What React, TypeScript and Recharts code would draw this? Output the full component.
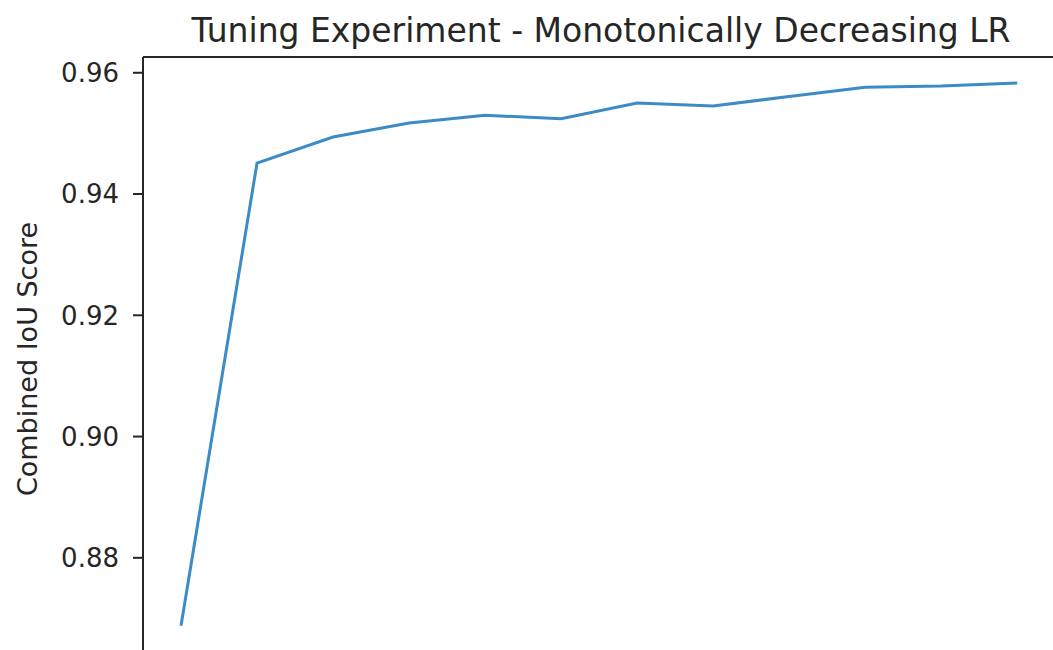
import React from 'react';
import { LineChart, Line, XAxis, YAxis, ReferenceLine } from 'recharts';

// Combined IoU score per tuning run (monotonically decreasing learning rate)
const runs = [1, 2, 3, 4, 5, 6, 7, 8, 9, 10, 11, 12];
const iouScores = [
  0.8688, 0.9451, 0.9494, 0.9517, 0.953, 0.9524, 0.955, 0.9545, 0.9561, 0.9576,
  0.9578, 0.9583,
];
const yTicks = [0.88, 0.9, 0.92, 0.94, 0.96];
const yDomain: [number, number] = [0.8643, 0.9626];

const data = runs.map((run, i) => ({ run, score: iouScores[i] }));

const FONT = '"DejaVu Sans", Verdana, sans-serif';
const INK = '#262626';

export default function App() {
  return (
    <div
      style={{
        position: 'fixed',
        top: 0,
        left: 0,
        width: 1053,
        height: 650,
        overflow: 'hidden',
        background: '#fff',
      }}
    >
      <LineChart
        width={1070}
        height={693}
        data={data}
        margin={{ top: 57, right: 11, bottom: 10, left: 63 }}
      >
        {/* bottom spine sits just below the visible frame */}
        <XAxis
          dataKey="run"
          type="number"
          domain={[0.5, 12.55]}
          allowDataOverflow
          height={30}
          tick={false}
          tickLine={false}
          axisLine={{ stroke: INK, strokeWidth: 2 }}
        />
        <YAxis
          type="number"
          domain={yDomain}
          allowDataOverflow
          ticks={yTicks}
          width={80}
          tickSize={10}
          tickMargin={14}
          tickFormatter={(v: number) => v.toFixed(2)}
          axisLine={{ stroke: INK, strokeWidth: 2 }}
          tickLine={{ stroke: INK, strokeWidth: 2 }}
          tick={{ fill: INK, fontSize: 26, fontFamily: FONT }}
        />
        {/* top spine */}
        <ReferenceLine y={yDomain[1]} stroke={INK} strokeWidth={2} />
        <Line
          type="linear"
          dataKey="score"
          stroke="#3b8bc6"
          strokeWidth={3}
          dot={false}
          isAnimationActive={false}
        />
      </LineChart>
      <svg
        width={1053}
        height={650}
        style={{ position: 'absolute', top: 0, left: 0, pointerEvents: 'none' }}
      >
        <text
          x={601}
          y={42}
          textAnchor="middle"
          fontFamily={FONT}
          fontSize={33}
          fill={INK}
        >
          Tuning Experiment - Monotonically Decreasing LR
        </text>
        <text
          x={37}
          y={359}
          textAnchor="middle"
          fontFamily={FONT}
          fontSize={27}
          fill={INK}
          transform="rotate(-90 37 359)"
        >
          Combined IoU Score
        </text>
      </svg>
    </div>
  );
}
